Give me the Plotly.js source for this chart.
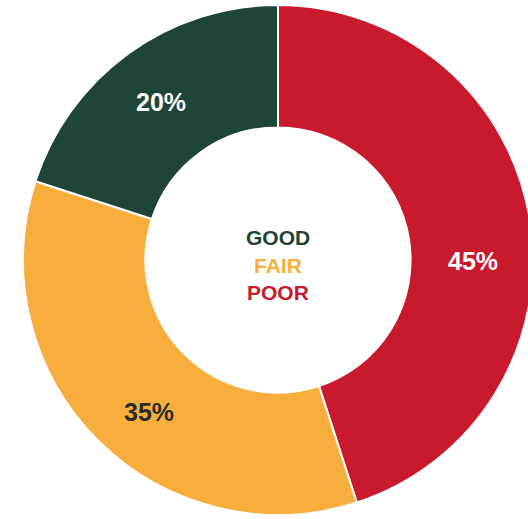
<!DOCTYPE html>
<html>
<head>
<meta charset="utf-8">
<script src="https://cdn.plot.ly/plotly-3.0.1.min.js"></script>
<style>
  html, body { margin: 0; padding: 0; overflow: hidden; background: #ffffff; }
  #chart { width: 560px; height: 519px; }
</style>
</head>
<body>
<div id="chart"></div>
<script>
// Data
const categories = ["POOR", "FAIR", "GOOD"];
const values = [45, 35, 20];
const sliceColors = ["#C81A2C", "#F8AE3C", "#1E4538"];
const labelColors = ["#FFFFFF", "#2B2B2B", "#FFFFFF"];
const centerOrder = ["GOOD", "FAIR", "POOR"];

// Layout geometry (pixels in figure space)
const W = 560, H = 519;
const cx = 278, cy = 260, R = 255;
const labelPx = {POOR: [473, 261], FAIR: [149, 412], GOOD: [161, 102]};
const centerY = {GOOD: 238, FAIR: 265, POOR: 292};

const trace = {
  type: "pie",
  labels: categories,
  values: values,
  sort: false,
  direction: "clockwise",
  rotation: 0,
  hole: 0.52,
  textinfo: "none",
  hoverinfo: "none",
  marker: { colors: sliceColors, line: { color: "#FFFFFF", width: 2 } },
  domain: { x: [(cx - R) / W, (cx + R) / W], y: [1 - (cy + R) / H, 1 - (cy - R) / H] },
  showlegend: false
};

const annotations = [];
categories.forEach((c, i) => {
  annotations.push({
    xref: "paper", yref: "paper",
    x: labelPx[c][0] / W, y: 1 - labelPx[c][1] / H,
    xanchor: "center", yanchor: "middle",
    text: "<b>" + values[i] + "%</b>",
    showarrow: false,
    font: { family: "Liberation Sans, Arial, sans-serif", size: 25, color: labelColors[i] }
  });
});
centerOrder.forEach(c => {
  const i = categories.indexOf(c);
  annotations.push({
    xref: "paper", yref: "paper",
    x: cx / W, y: 1 - centerY[c] / H,
    xanchor: "center", yanchor: "middle",
    text: "<b>" + c + "</b>",
    showarrow: false,
    font: { family: "Liberation Sans, Arial, sans-serif", size: 21, color: sliceColors[i] }
  });
});

const layout = {
  width: W, height: H,
  margin: { l: 0, r: 0, t: 0, b: 0 },
  paper_bgcolor: "#FFFFFF",
  annotations: annotations
};

Plotly.newPlot("chart", [trace], layout, { staticPlot: true, displayModeBar: false });
</script>
</body>
</html>
